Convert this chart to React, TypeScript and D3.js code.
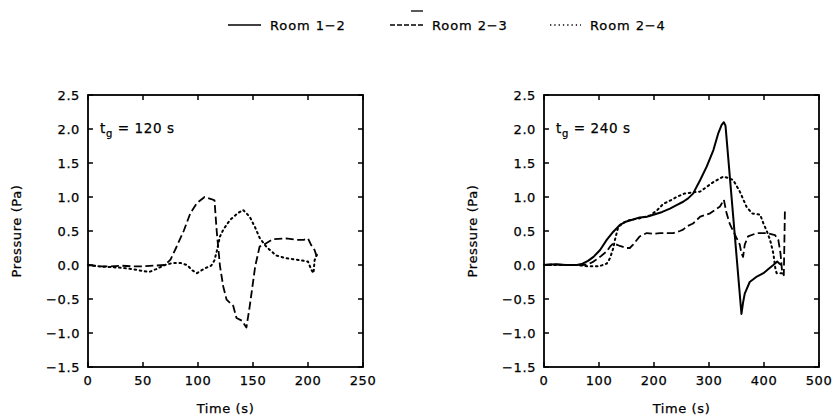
import React from "react";
import * as d3 from "d3";

const seriesNames = ["Room 1-2", "Room 2-3", "Room 2-4"];

// Left panel (t_g = 120 s)
const leftTime23 = [0, 10, 20, 30, 40, 50, 60, 70, 75, 80, 87, 93, 99, 106, 112, 115, 117, 120, 123, 126, 132, 135, 140, 144, 147, 152, 156, 162, 168, 180, 190, 196, 200, 203, 206, 208];
const leftP23 = [0, -0.02, -0.02, -0.01, -0.02, -0.02, -0.01, 0, 0.08, 0.25, 0.5, 0.76, 0.91, 1.0, 0.97, 0.95, 0.5, -0.02, -0.32, -0.51, -0.6, -0.78, -0.82, -0.92, -0.61, -0.02, 0.27, 0.32, 0.38, 0.39, 0.37, 0.37, 0.39, 0.29, 0.22, 0.12];
const leftTime24 = [0, 10, 20, 30, 40, 50, 56, 62, 70, 77, 84, 90, 95, 99, 106, 112, 115, 117, 120, 123, 129, 136, 141, 147, 152, 156, 162, 171, 180, 193, 200, 203, 205, 206, 208];
const leftP24 = [0, -0.02, -0.03, -0.04, -0.06, -0.09, -0.1, -0.06, 0, 0.03, 0.03, 0.0, -0.08, -0.12, -0.05, -0.01, 0.07, 0.2, 0.42, 0.52, 0.66, 0.76, 0.81, 0.71, 0.55, 0.4, 0.27, 0.14, 0.1, 0.07, 0.05, -0.07, -0.12, 0.07, 0.15];

// Right panel (t_g = 240 s)
const rightTime12 = [0, 20, 40, 60, 70, 80, 90, 102, 114, 126, 138, 150, 162, 174, 187, 199, 215, 229, 241, 253, 262, 271, 284, 296, 308, 317, 323, 327, 330, 359, 362, 365, 374, 387, 399, 408, 417, 424, 428, 432];
const rightP12 = [0, 0.01, 0, 0, 0.02, 0.06, 0.12, 0.22, 0.37, 0.49, 0.59, 0.64, 0.67, 0.7, 0.71, 0.74, 0.78, 0.83, 0.88, 0.93, 0.98, 1.05, 1.25, 1.45, 1.69, 1.94, 2.06, 2.1, 2.05, -0.72, -0.55, -0.42, -0.25, -0.17, -0.12, -0.06, 0.0, 0.05, 0.02, 0.0];
const rightTime23 = [0, 20, 40, 60, 70, 80, 90, 102, 114, 120, 126, 132, 138, 150, 156, 162, 174, 187, 199, 211, 223, 235, 247, 253, 260, 271, 284, 302, 320, 327, 332, 338, 344, 350, 356, 359, 362, 365, 371, 387, 405, 420, 426, 430, 433, 436, 437, 438];
const rightP23 = [0, 0.01, 0, 0, 0, 0.01, 0.05, 0.12, 0.2, 0.27, 0.32, 0.3, 0.28, 0.25, 0.25, 0.3, 0.42, 0.47, 0.46, 0.47, 0.47, 0.47, 0.5, 0.52, 0.57, 0.61, 0.71, 0.76, 0.86, 0.96, 0.76, 0.6, 0.5, 0.4, 0.3, 0.17, 0.12, 0.3, 0.42, 0.47, 0.47, 0.44, 0.37, 0.17, -0.1, -0.15, 0.3, 0.8];
const rightTime24 = [0, 20, 40, 60, 80, 100, 114, 120, 126, 129, 135, 144, 155, 170, 180, 193, 205, 217, 230, 241, 255, 271, 284, 296, 308, 326, 335, 344, 356, 368, 378, 393, 399, 405, 411, 417, 421, 423, 432, 435];
const rightP24 = [0, 0, 0, 0, -0.02, -0.02, 0.02, 0.1, 0.25, 0.37, 0.56, 0.62, 0.66, 0.68, 0.7, 0.73, 0.8, 0.9, 0.95, 1.0, 1.05, 1.07, 1.08, 1.15, 1.22, 1.3, 1.28, 1.25, 1.08, 0.86, 0.76, 0.74, 0.61, 0.5, 0.37, 0.17, -0.07, -0.12, -0.12, -0.12];

const yTicks = [-1.5, -1.0, -0.5, 0.0, 0.5, 1.0, 1.5, 2.0, 2.5];
const leftXTicks = [0, 50, 100, 150, 200, 250];
const rightXTicks = [0, 100, 200, 300, 400, 500];

const FONT = "'DejaVu Sans', Arial, sans-serif";
const dashStyles = ["none", "8,3.5", "1.6,3.6"];
const textProps = { fontFamily: FONT, fontSize: 13, letterSpacing: 0.6, fill: "#000", stroke: "#000", strokeWidth: 0.25 };

type Series = { t: number[]; p: number[]; style: number };

function Panel({ x0, x1, y0, y1, xMax, xTicks, label, series }: {
  x0: number; x1: number; y0: number; y1: number; xMax: number; xTicks: number[]; label: string; series: Series[];
}) {
  const x = d3.scaleLinear().domain([0, xMax]).range([x0, x1]);
  const y = d3.scaleLinear().domain([-1.5, 2.5]).range([y1, y0]);
  const tick = 5;
  return (
    <g>
      {series.map((s, i) => {
        const line = d3.line<number>().x((_, k) => x(s.t[k])).y((v) => y(v));
        return (
          <path key={i} d={line(s.p) || ""} fill="none" stroke="#000"
            strokeWidth={s.style === 0 ? 2 : s.style === 1 ? 1.8 : 2}
            strokeDasharray={dashStyles[s.style]}
            strokeLinejoin="round"
            strokeLinecap={s.style === 2 ? "round" : "butt"} />
        );
      })}
      <rect x={x0} y={y0} width={x1 - x0} height={y1 - y0} fill="none" stroke="#000" strokeWidth={1.8} />
      {xTicks.map((t) => (
        <g key={"x" + t}>
          <line x1={x(t)} x2={x(t)} y1={y1} y2={y1 - tick} stroke="#000" strokeWidth={1.5} />
          <line x1={x(t)} x2={x(t)} y1={y0} y2={y0 + tick} stroke="#000" strokeWidth={1.5} />
          <text x={x(t)} y={y1 + 18} textAnchor="middle" {...textProps}>{t}</text>
        </g>
      ))}
      {yTicks.map((v) => (
        <g key={"y" + v}>
          <line x1={x0} x2={x0 + tick} y1={y(v)} y2={y(v)} stroke="#000" strokeWidth={1.5} />
          <line x1={x1} x2={x1 - tick} y1={y(v)} y2={y(v)} stroke="#000" strokeWidth={1.5} />
          <text x={x0 - 8} y={y(v) + 4.5} textAnchor="end" {...textProps}>
            {(v < 0 ? "\u2212" : "") + Math.abs(v).toFixed(1)}
          </text>
        </g>
      ))}
      <text x={(x0 + x1) / 2} y={y1 + 46} textAnchor="middle" {...textProps}>Time (s)</text>
      <text transform={`translate(${x0 - 67},${(y0 + y1) / 2}) rotate(-90)`} textAnchor="middle" {...textProps}>Pressure (Pa)</text>
      <text x={x0 + 12} y={y0 + 38} {...textProps} fontSize={13.5}>
        t<tspan dy={4} fontSize={10}>g</tspan><tspan dy={-4}>{"  =  " + label}</tspan>
      </text>
    </g>
  );
}

export default function App() {
  const legendX = [228, 390, 548];
  return (
    <svg width={833} height={420} style={{ position: "absolute", left: 0, top: 0, background: "#fff" }}>
      <line x1={411} x2={423} y1={11} y2={11} stroke="#000" strokeWidth={1.3} />
      {seriesNames.map((n, i) => (
        <g key={n}>
          <line x1={legendX[i] + (i === 2 ? 2 : 0)} x2={legendX[i] + 33} y1={25} y2={25} stroke="#000"
            strokeWidth={1.6} strokeDasharray={i === 0 ? "none" : i === 1 ? "5,2" : "1.3,3"} />
          <text x={legendX[i] + 42} y={29.5} {...textProps} letterSpacing={0.9}>
            {n.replace("-", "\u2212")}
          </text>
        </g>
      ))}
      <Panel x0={88} x1={363} y0={95} y1={367} xMax={250} xTicks={leftXTicks} label="120 s"
        series={[{ t: leftTime23, p: leftP23, style: 1 }, { t: leftTime24, p: leftP24, style: 2 }]} />
      <Panel x0={544} x1={819} y0={95} y1={367} xMax={500} xTicks={rightXTicks} label="240 s"
        series={[{ t: rightTime12, p: rightP12, style: 0 }, { t: rightTime23, p: rightP23, style: 1 }, { t: rightTime24, p: rightP24, style: 2 }]} />
    </svg>
  );
}
